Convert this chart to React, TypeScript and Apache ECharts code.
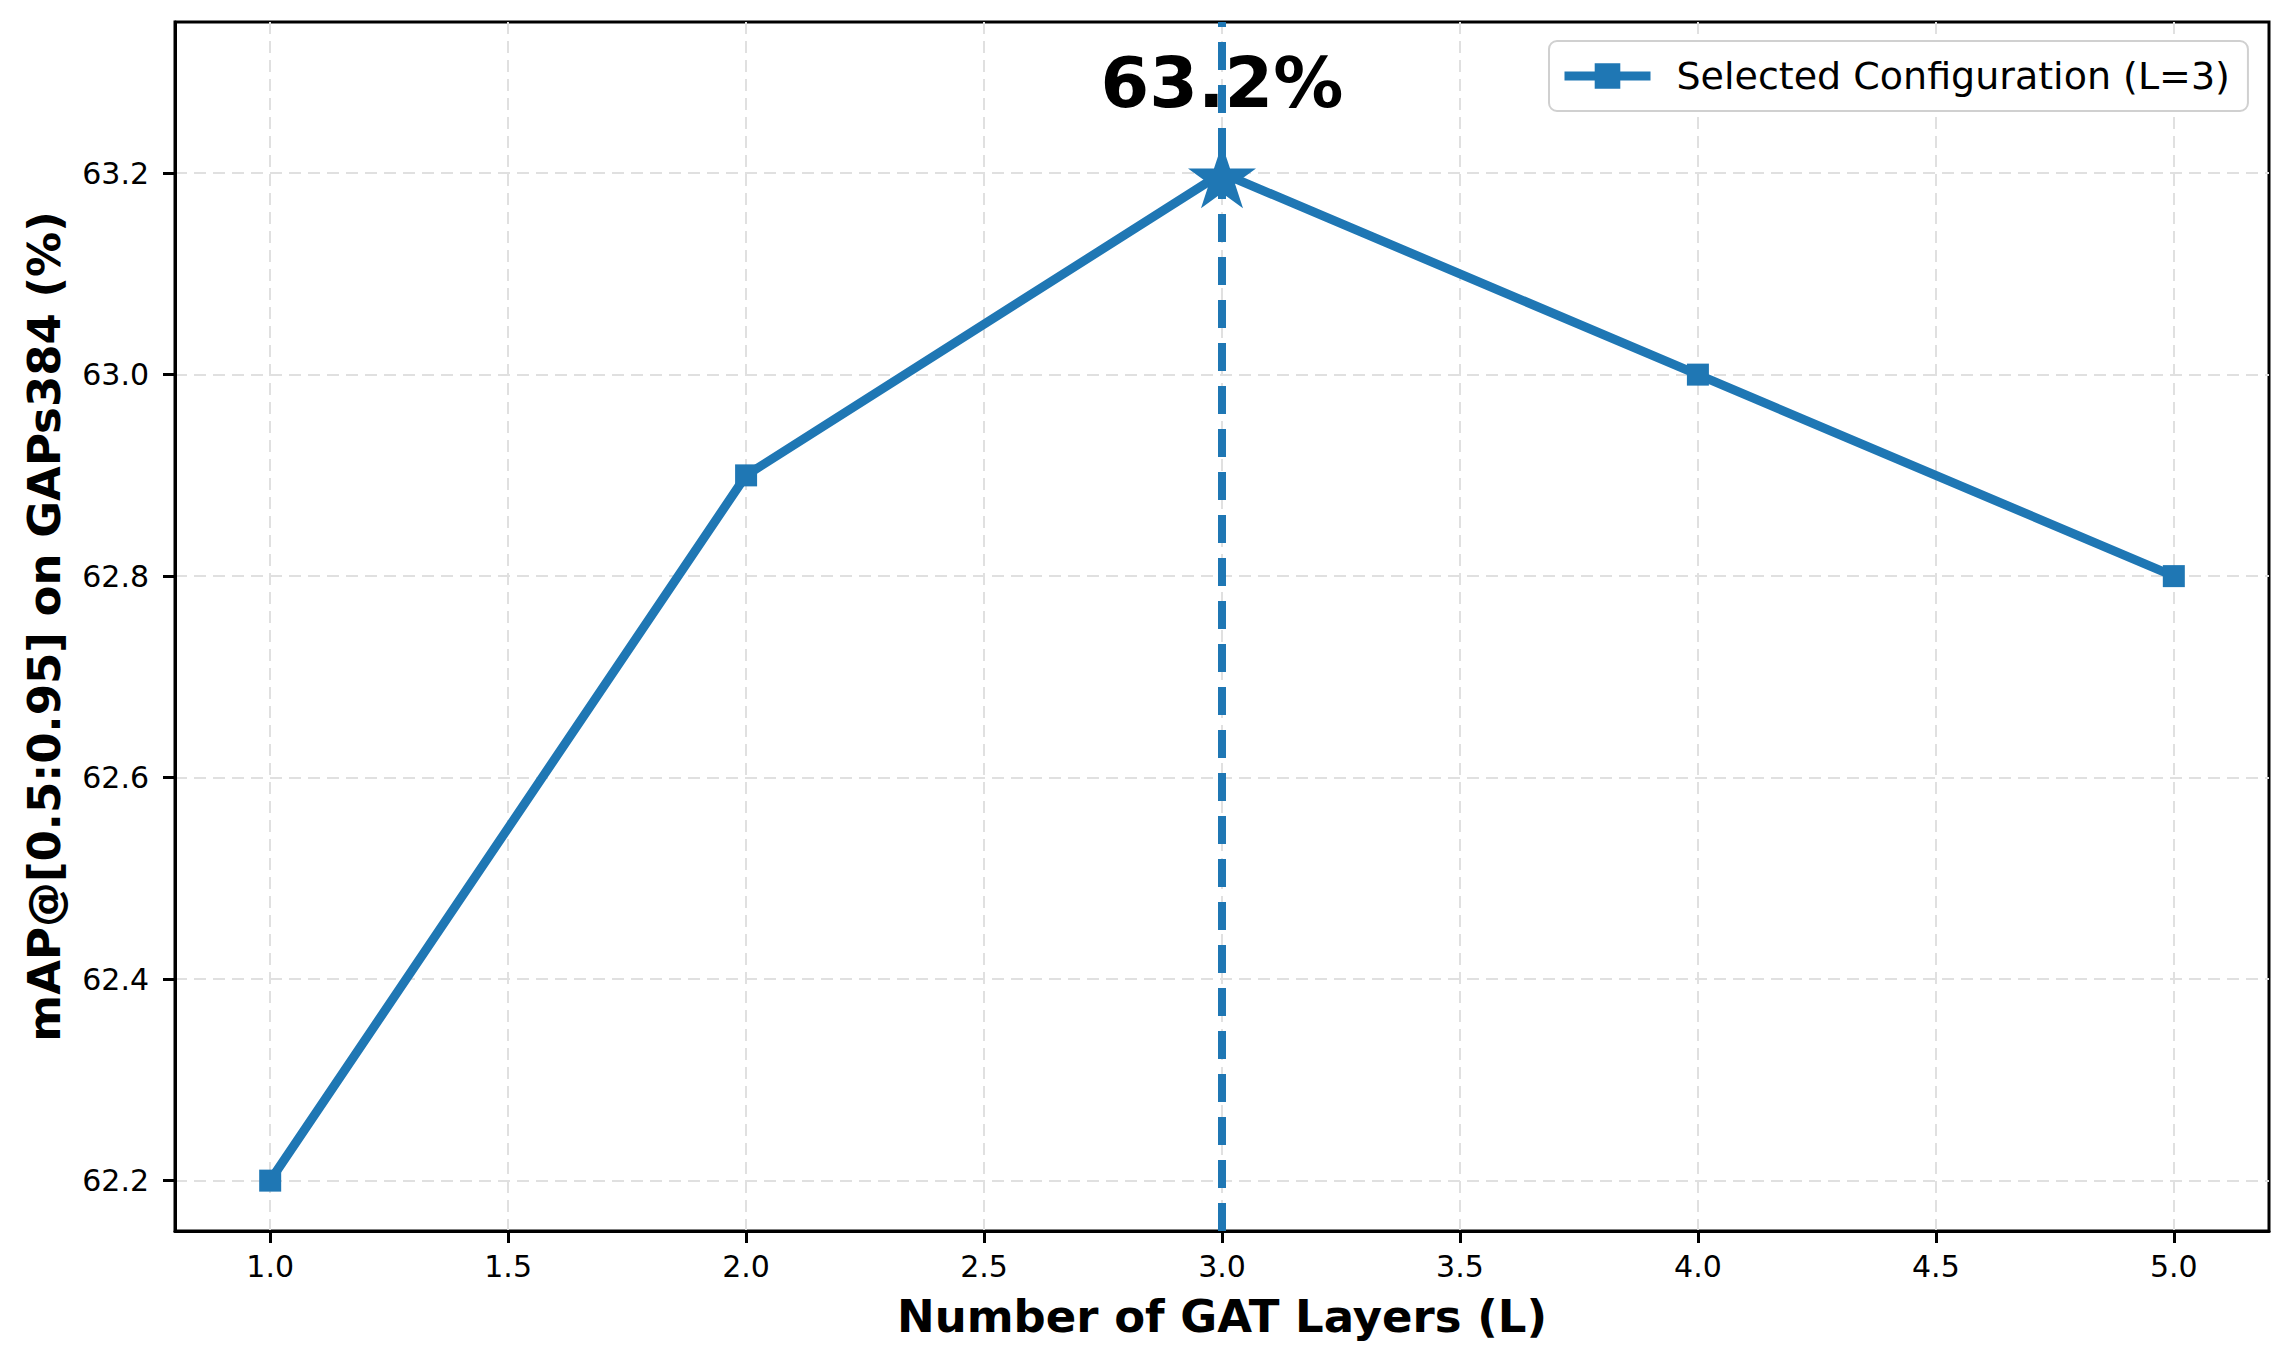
import React, { useEffect, useRef } from "react";
import * as echarts from "echarts";

const LAYERS = [1, 2, 3, 4, 5];
const MAP_VALUES = [62.2, 62.9, 63.2, 63.0, 62.8];
const SELECTED_LAYER = 3;
const X_TICKS = [1.0, 1.5, 2.0, 2.5, 3.0, 3.5, 4.0, 4.5, 5.0];
const Y_TICKS = [62.2, 62.4, 62.6, 62.8, 63.0, 63.2];
const X_RANGE = [0.8, 5.2];
const Y_RANGE = [62.15, 63.35];
const SERIES_NAME = "Selected Configuration (L=3)";
const X_NAME = "Number of GAT Layers (L)";
const Y_NAME = "mAP@[0.5:0.95] on GAPs384 (%)";

const BLUE = "#1f77b4";
const FONT = "DejaVu Sans";

function starPath(): string {
  const pts: string[] = [];
  const inner = 0.381966;
  for (let i = 0; i < 10; i++) {
    const r = i % 2 === 0 ? 1 : inner;
    const a = (Math.PI / 5) * i - Math.PI / 2;
    const x = (r * Math.cos(a) * 100).toFixed(2);
    const y = (r * Math.sin(a) * 100).toFixed(2);
    pts.push(`${i === 0 ? "M" : "L"}${x} ${y}`);
  }
  return "path://" + pts.join(" ") + " Z";
}

export default function App() {
  const ref = useRef<HTMLDivElement>(null);
  useEffect(() => {
    document.body.style.margin = "0";
    if (!ref.current) return;
    const chart = echarts.init(ref.current, undefined, { renderer: "svg" });
    const STAR = starPath();
    const axisCommon = {
      axisLine: { show: true, onZero: false, lineStyle: { color: "#000", width: 3 } },
      axisTick: { show: true, length: 12, lineStyle: { color: "#000", width: 3 } },
      splitLine: { show: true, lineStyle: { color: "#e0e0e0", width: 2, type: [12, 7] } },
    };
    chart.setOption({
      animation: false,
      backgroundColor: "#fff",
      grid: {
        left: 175,
        right: 16,
        top: 22,
        bottom: 124,
        show: true,
        borderColor: "#000",
        borderWidth: 3,
        containLabel: false,
        outerBoundsMode: "none",
      },
      legend: {
        show: true,
        left: 1549,
        top: 41,
        padding: [16, 18, 16, 11],
        backgroundColor: "#fff",
        borderColor: "#d0d0d0",
        borderWidth: 2,
        borderRadius: 8,
        itemWidth: 86,
        itemHeight: 32,
        data: [SERIES_NAME],
        lineStyle: { width: 9, color: BLUE },
        textStyle: { fontFamily: FONT, fontSize: 38, color: "#000", padding: [0, 0, 0, 21] },
      },
      xAxis: {
        type: "value",
        min: X_RANGE[0],
        max: X_RANGE[1],
        splitNumber: 9,
        name: X_NAME,
        nameLocation: "middle",
        nameGap: 63,
        nameTextStyle: { fontFamily: FONT, fontSize: 45, fontWeight: "bold", color: "#000" },
        ...axisCommon,
        axisTick: { ...axisCommon.axisTick, customValues: X_TICKS },
        axisLabel: {
          customValues: X_TICKS,
          margin: 20,
          fontFamily: FONT,
          fontSize: 30,
          color: "#000",
          formatter: (v: number) => v.toFixed(1),
        },
      },
      yAxis: {
        type: "value",
        min: Y_RANGE[0],
        max: Y_RANGE[1],
        splitNumber: 5,
        name: Y_NAME,
        nameLocation: "middle",
        nameGap: 108,
        nameTextStyle: { fontFamily: FONT, fontSize: 45, fontWeight: "bold", color: "#000" },
        ...axisCommon,
        axisTick: { ...axisCommon.axisTick, customValues: Y_TICKS },
        axisLabel: {
          customValues: Y_TICKS,
          margin: 26,
          fontFamily: FONT,
          fontSize: 30,
          color: "#000",
          formatter: (v: number) => v.toFixed(1),
        },
      },
      series: [
        {
          type: "line",
          name: SERIES_NAME,
          data: LAYERS.map((x, i) =>
            x === SELECTED_LAYER
              ? { value: [x, MAP_VALUES[i]], symbol: STAR, symbolSize: [68, 64], symbolOffset: [0, 3] }
              : [x, MAP_VALUES[i]]
          ),
          symbol: "rect",
          symbolSize: 22,
          z: 3,
          lineStyle: { width: 9, color: BLUE },
          itemStyle: { color: BLUE },
          emphasis: { disabled: true },
          markLine: {
            silent: true,
            symbol: ["none", "none"],
            label: { show: false },
            lineStyle: { type: [28, 15], width: 8, color: BLUE },
            emphasis: { disabled: true },
            data: [{ xAxis: SELECTED_LAYER }],
            z: 5,
          },
          markPoint: {
            silent: true,
            symbol: "circle",
            symbolSize: 1,
            itemStyle: { color: "rgba(0,0,0,0)" },
            data: [{ type: "max" }],
            z: 1,
            label: {
              show: true,
              position: "inside",
              offset: [0, -90],
              fontFamily: FONT,
              fontSize: 70,
              fontWeight: "bold",
              color: "#000",
              formatter: (p: any) => `${Number(p.value).toFixed(1)}%`,
            },
          },
        },
      ],
    });
    return () => chart.dispose();
  }, []);
  return <div ref={ref} style={{ width: 2285, height: 1355 }} />;
}
